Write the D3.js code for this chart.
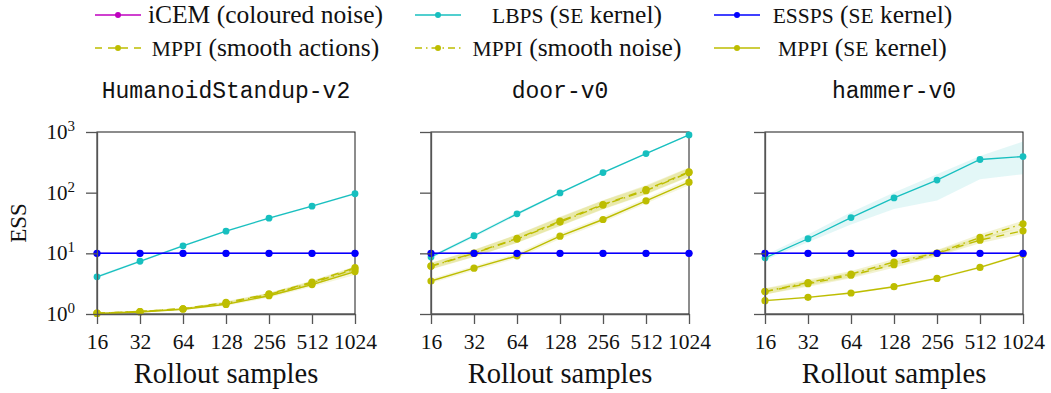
<!DOCTYPE html>
<html>
<head>
<meta charset="utf-8">
<script src="https://cdn.jsdelivr.net/npm/d3@7"></script>
<style>
  body { margin: 0; background: #fff; }
  svg { display: block; }
</style>
</head>
<body>
<svg id="chart" width="1051" height="393"></svg>
<script>
// x values and panel names
var samples = [16, 32, 64, 128, 256, 512, 1024];
var envNames = ["HumanoidStandup-v2", "door-v0", "hammer-v0"];
var yTicks = [1, 10, 100, 1000];
var yTickExp = ["0", "1", "2", "3"];

// HumanoidStandup-v2
var humIcem = [10, 10, 10, 10, 10, 10, 10];
var humEssps = [10, 10, 10, 10, 10, 10, 10];
var humLbps = [4.1, 7.4, 13.3, 23.2, 38, 60, 96];
var humLbpsLo = [3.9, 7.1, 12.8, 22.4, 36.5, 58, 92];
var humLbpsHi = [4.3, 7.7, 13.8, 24, 39.5, 62, 100];
var humMppiAct = [1.03, 1.1, 1.22, 1.55, 2.15, 3.35, 5.8];
var humMppiActLo = [1.0, 1.07, 1.18, 1.45, 1.95, 3.0, 5.0];
var humMppiActHi = [1.06, 1.13, 1.26, 1.62, 2.25, 3.55, 6.1];
var humMppiNoise = [1.03, 1.1, 1.22, 1.5, 2.1, 3.25, 5.5];
var humMppiNoiseLo = [1.0, 1.07, 1.18, 1.42, 1.95, 2.95, 4.9];
var humMppiNoiseHi = [1.06, 1.13, 1.26, 1.58, 2.22, 3.45, 5.9];
var humMppiSe = [1.02, 1.08, 1.2, 1.44, 2.0, 3.05, 5.0];
var humMppiSeLo = [1.0, 1.05, 1.16, 1.37, 1.85, 2.8, 4.4];
var humMppiSeHi = [1.04, 1.11, 1.24, 1.52, 2.12, 3.3, 5.5];

// door-v0
var doorIcem = [10, 10, 10, 10, 10, 10, 10];
var doorEssps = [10, 10, 10, 10, 10, 10, 10];
var doorLbps = [8.7, 19.5, 44.8, 99, 214, 441, 894];
var doorLbpsLo = [8.2, 18.3, 42, 95, 206, 428, 870];
var doorLbpsHi = [9.2, 20.7, 47.5, 103, 222, 455, 920];
var doorMppiAct = [6.2, 10.1, 17.6, 33.9, 63.8, 112, 220];
var doorMppiActLo = [5.5, 8.8, 15, 28.5, 54, 95, 185];
var doorMppiActHi = [7, 11.5, 20.5, 40, 75, 132, 260];
var doorMppiNoise = [6.1, 10.0, 17.2, 32.7, 62.5, 108, 215];
var doorMppiNoiseLo = [5.4, 8.7, 14.8, 28, 53, 93, 182];
var doorMppiNoiseHi = [6.9, 11.4, 20.2, 39, 74, 128, 255];
var doorMppiSe = [3.5, 5.7, 9.1, 19.2, 36.1, 73.3, 149];
var doorMppiSeLo = [3.2, 5.2, 8.3, 17.3, 32.5, 66, 132];
var doorMppiSeHi = [3.8, 6.2, 10, 21.3, 40, 81, 168];

// hammer-v0
var hamIcem = [10, 10, 10, 10, 10, 10, 10];
var hamEssps = [10, 10, 10, 10, 10, 10, 10];
var hamLbps = [8.4, 17.4, 38.9, 81.8, 161, 352, 394];
var hamLbpsLo = [7.7, 15.3, 29.9, 54, 74, 167, 202];
var hamLbpsHi = [9.3, 20.5, 47.6, 101, 202, 404, 695];
var hamMppiAct = [2.35, 3.15, 4.35, 6.5, 10, 16.5, 23.5];
var hamMppiActLo = [2.1, 2.8, 3.9, 5.8, 8.9, 14.6, 21];
var hamMppiActHi = [2.6, 3.5, 4.85, 7.3, 11.2, 18.5, 26.5];
var hamMppiNoise = [2.35, 3.3, 4.55, 7.2, 10.1, 18.3, 30.7];
var hamMppiNoiseLo = [2.1, 2.95, 4.05, 6.4, 9.0, 16.2, 27.2];
var hamMppiNoiseHi = [2.65, 3.7, 5.1, 8.1, 11.4, 20.6, 34.5];
var hamMppiSe = [1.66, 1.88, 2.22, 2.82, 3.86, 5.86, 9.7];
var hamMppiSeLo = [1.6, 1.82, 2.15, 2.72, 3.72, 5.6, 9.3];
var hamMppiSeHi = [1.72, 1.95, 2.3, 2.92, 4.0, 6.1, 10.1];

var cIcem = "#bf00bf", cLbps = "#17bfbf", cEssps = "#0000ff", cMppi = "#bdbd00";
var serif = "'Liberation Serif', 'Times New Roman', serif";
var mono = "'Liberation Mono', 'DejaVu Sans Mono', monospace";

var panels = [
  {icem: humIcem, essps: humEssps, lbps: [humLbps, humLbpsLo, humLbpsHi],
   act: [humMppiAct, humMppiActLo, humMppiActHi], noise: [humMppiNoise, humMppiNoiseLo, humMppiNoiseHi],
   se: [humMppiSe, humMppiSeLo, humMppiSeHi]},
  {icem: doorIcem, essps: doorEssps, lbps: [doorLbps, doorLbpsLo, doorLbpsHi],
   act: [doorMppiAct, doorMppiActLo, doorMppiActHi], noise: [doorMppiNoise, doorMppiNoiseLo, doorMppiNoiseHi],
   se: [doorMppiSe, doorMppiSeLo, doorMppiSeHi]},
  {icem: hamIcem, essps: hamEssps, lbps: [hamLbps, hamLbpsLo, hamLbpsHi],
   act: [hamMppiAct, hamMppiActLo, hamMppiActHi], noise: [hamMppiNoise, hamMppiNoiseLo, hamMppiNoiseHi],
   se: [hamMppiSe, hamMppiSeLo, hamMppiSeHi]}
];

var svg = d3.select("#chart");
var panelLeft = [97, 431, 765];
var pw = 258, plotTop = 132, plotBottom = 314;

var y = d3.scaleLog().domain([1, 1000]).range([plotBottom, plotTop]);

panels.forEach(function(p, i) {
  var x = d3.scaleLog().base(2).domain([16, 1024]).range([panelLeft[i], panelLeft[i] + pw]);
  var g = svg.append("g");

  //frame (top/right black)
  g.append("rect")
    .attr("x", panelLeft[i]).attr("y", plotTop)
    .attr("width", pw).attr("height", plotBottom - plotTop)
    .attr("fill", "none").attr("stroke", "#1a1a1a").attr("stroke-width", 1);

  var line = d3.line().x((d, j) => x(samples[j])).y(d => y(d));
  var area = d3.area()
    .x((d, j) => x(samples[j]))
    .y0(d => y(d[0]))
    .y1(d => y(d[1]));

  function band(s, color, op) {
    g.append("path")
      .attr("d", area(s[1].map((v, j) => [v, s[2][j]])))
      .attr("fill", color).attr("fill-opacity", op).attr("stroke", "none");
  }
  band(p.lbps, cLbps, 0.12);
  band(p.act, cMppi, 0.18);
  band(p.noise, cMppi, 0.18);
  band(p.se, cMppi, 0.14);

  function series(vals, color, dash, w, r) {
    g.append("path")
      .attr("d", line(vals))
      .attr("fill", "none").attr("stroke", color)
      .attr("stroke-width", w)
      .attr("stroke-dasharray", dash);
    g.selectAll(null)
      .data(vals)
      .enter()
      .append("circle")
      .attr("cx", (d, j) => x(samples[j]))
      .attr("cy", d => y(d))
      .attr("r", r)
      .attr("fill", color);
  }
  series(p.se[0], cMppi, null, 1.4, 3.6);
  series(p.act[0], cMppi, "8,6", 1.4, 3.6);
  series(p.noise[0], cMppi, "8,4,1.5,4", 1.4, 3.6);
  series(p.lbps[0], cLbps, null, 1.3, 3.4);
  series(p.icem, cIcem, null, 1.3, 3.4);
  series(p.essps, cEssps, null, 1.5, 3.6);

  //axes
  var xAxis = g.append("g")
    .attr("transform", `translate(0,${plotBottom})`)
    .call(d3.axisBottom(x).tickValues(samples).tickSize(10).tickSizeOuter(0).tickFormat(d => d));
  xAxis.selectAll("text")
    .attr("font-family", serif).attr("font-size", 21.5)
    .attr("fill", "#111").attr("dy", null).attr("y", 35);

  var yAxis = g.append("g")
    .attr("transform", `translate(${panelLeft[i]},0)`)
    .call(d3.axisLeft(y).tickValues(yTicks).tickSize(11).tickSizeOuter(0).tickFormat(""));

  [xAxis, yAxis].forEach(function(a) {
    a.select(".domain").attr("stroke", "#555").attr("stroke-width", 1.3);
    a.selectAll(".tick line").attr("stroke", "#555").attr("stroke-width", 1.3);
  });

  if (i == 0) {
    var lab = g.append("g");
    yTicks.forEach(function(t, k) {
      var tx = lab.append("text")
        .attr("x", panelLeft[i] - 22)
        .attr("y", y(t) + 7)
        .attr("text-anchor", "end")
        .attr("font-family", serif).attr("font-size", 21).attr("fill", "#111");
      tx.append("tspan").text("10");
      tx.append("tspan").attr("font-size", 15).attr("dy", -8).text(yTickExp[k]);
    });
    g.append("text")
      .attr("transform", `translate(${panelLeft[i] - 71},${(plotTop + plotBottom) / 2}) rotate(-90)`)
      .attr("text-anchor", "middle")
      .attr("font-family", serif).attr("font-size", 23).attr("fill", "#111")
      .text("ESS");
  }

  //titles
  g.append("text")
    .attr("x", panelLeft[i] + pw / 2)
    .attr("y", 98)
    .attr("text-anchor", "middle")
    .attr("font-family", mono).attr("font-size", 23).attr("fill", "#111")
    .text(envNames[i]);

  g.append("text")
    .attr("x", panelLeft[i] + pw / 2)
    .attr("y", 383)
    .attr("text-anchor", "middle")
    .attr("font-family", serif).attr("font-size", 28.5).attr("fill", "#111")
    .text("Rollout samples");
});

// legend
var legendItems = [
  {sc: "", post: "iCEM (coloured noise)", color: cIcem, dash: null, col: 0, row: 0},
  {sc: "LBPS", post: " (SE kernel)", color: cLbps, dash: null, col: 1, row: 0},
  {sc: "ESSPS", post: " (SE kernel)", color: cEssps, dash: null, col: 2, row: 0},
  {sc: "MPPI", post: " (smooth actions)", color: cMppi, dash: "7,6", col: 0, row: 1},
  {sc: "MPPI", post: " (smooth noise)", color: cMppi, dash: "7,4,1.5,4", col: 1, row: 1},
  {sc: "MPPI", post: " (SE kernel)", color: cMppi, dash: null, col: 2, row: 1}
];
var legLineX = [95, 415, 714];
var legTextCx = [265.5, 577, 862.5];
var legRowY = [15, 48];

var leg = svg.append("g");
legendItems.forEach(function(it) {
  var ly = legRowY[it.row];
  leg.append("line")
    .attr("x1", legLineX[it.col]).attr("x2", legLineX[it.col] + 46)
    .attr("y1", ly).attr("y2", ly)
    .attr("stroke", it.color).attr("stroke-width", 1.4)
    .attr("stroke-dasharray", it.dash);
  leg.append("circle")
    .attr("cx", legLineX[it.col] + 23).attr("cy", ly).attr("r", 3)
    .attr("fill", it.color);
  var t = leg.append("text")
    .attr("x", legTextCx[it.col]).attr("y", ly + 8)
    .attr("text-anchor", "middle")
    .attr("font-family", serif).attr("font-size", 25.5).attr("fill", "#111");
  if (it.sc) t.append("tspan").attr("font-size", 21.5).text(it.sc);
  var m = it.post.match(/^(.*\()SE( kernel\))$/);
  if (m) {
    t.append("tspan").text(m[1]);
    t.append("tspan").attr("font-size", 21.5).text("SE");
    t.append("tspan").text(m[2]);
  } else {
    t.append("tspan").text(it.post);
  }
});
</script>
</body>
</html>
